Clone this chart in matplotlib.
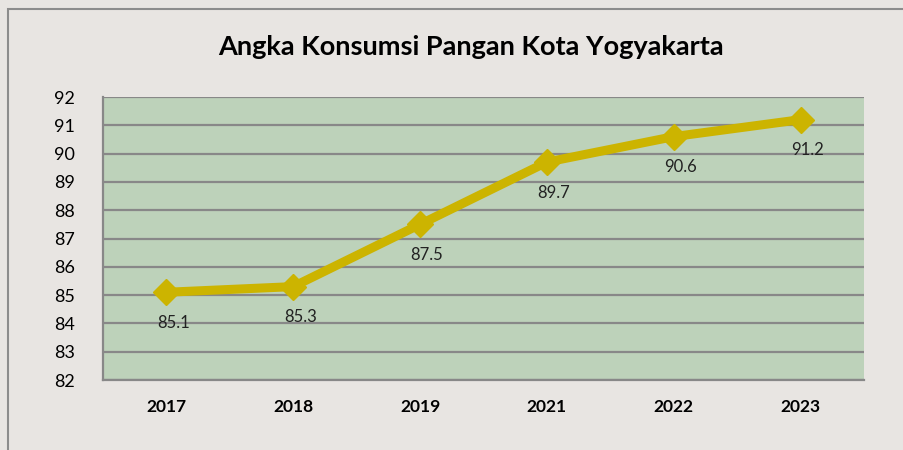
import matplotlib
matplotlib.use("Agg")
import matplotlib.pyplot as plt
from matplotlib.patches import Rectangle

years = ["2017", "2018", "2019", "2021", "2022", "2023"]
values = [85.1, 85.3, 87.5, 89.7, 90.6, 91.2]
yticks = [82, 83, 84, 85, 86, 87, 88, 89, 90, 91, 92]

plt.rcParams['font.family'] = ['Lato', 'DejaVu Sans']

W, H = 904, 450
fig = plt.figure(figsize=(W / 100, H / 100), dpi=100, facecolor='#E8E5E2')
ax = fig.add_axes([103 / W, 1 - 380 / H, (864 - 103) / W, (380 - 97) / H])
ax.set_facecolor('#BDD2BA')

x = list(range(len(years)))
ax.set_xlim(-0.5, len(years) - 0.5)
ax.set_ylim(82, 92)
ax.set_yticks(yticks)
ax.set_yticklabels([str(t) for t in yticks], fontsize=13)
ax.set_xticks(x)
ax.set_xticklabels(years, fontsize=12.5, fontweight='bold')
ax.tick_params(axis='both', length=0, colors='black')
ax.tick_params(axis='y', pad=20)
ax.tick_params(axis='x', pad=14)
ax.grid(axis='y', color='#888888', linewidth=1.6)
ax.set_axisbelow(True)
for s in ['top', 'right']:
    ax.spines[s].set_visible(False)
for s in ['left', 'bottom']:
    ax.spines[s].set_color('#888888')
    ax.spines[s].set_linewidth(1.6)

ax.plot(x, values, color='#CCB400', linewidth=6.5, marker='D', markersize=13,
        solid_capstyle='round', zorder=3)
for xi, v in zip(x, values):
    ax.annotate(f"{v}", (xi, v), xytext=(5, -22), textcoords='offset points',
                ha='center', va='center', fontsize=12, color='#222222')

fig.text(471 / W, 1 - 47 / H, "Angka Konsumsi Pangan Kota Yogyakarta",
         ha='center', va='center', fontsize=19.5, fontweight='bold')

fig.add_artist(Rectangle((8 / W, -0.1), 1.2, 1 - 9 / H + 0.1, transform=fig.transFigure,
                         fill=False, edgecolor='#8C8C8C', linewidth=1.5))

fig.savefig("out.png", dpi=100, facecolor=fig.get_facecolor())
